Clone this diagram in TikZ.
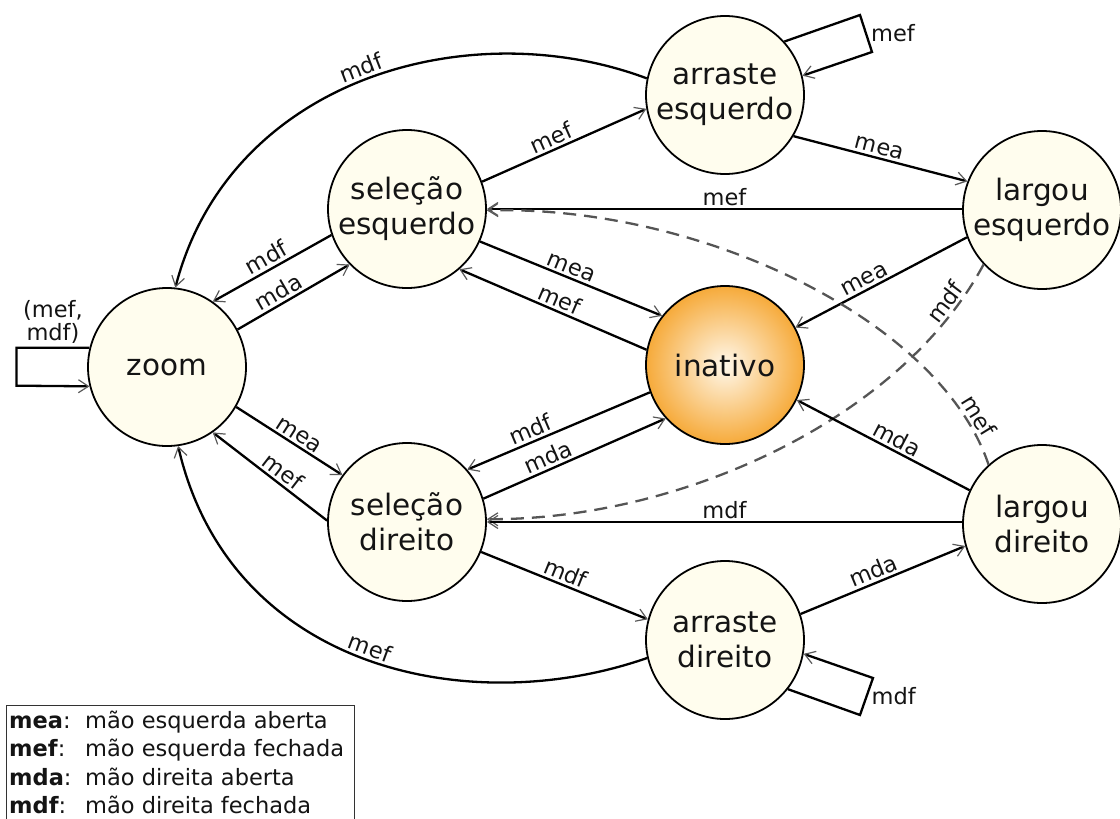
\documentclass[tikz,border=0pt]{standalone}
\usepackage{fontspec}
\setmainfont{DejaVu Sans}
\usetikzlibrary{arrows.meta,calc}
\definecolor{cream}{RGB}{255,253,238}
\definecolor{orangeout}{RGB}{246,170,58}
\definecolor{orangein}{RGB}{255,248,235}
\definecolor{dashgray}{RGB}{85,85,85}
\begin{document}
\begin{tikzpicture}[x=1pt,y=-1pt,
  state/.style={circle,draw=black,line width=1.8pt,fill=cream,minimum size=158pt,
    inner sep=0pt,align=center,font=\fontsize{29.5}{35}\selectfont,text=black!92},
  idle/.style={state,shading=radial,inner color=orangein,outer color=orangeout},
  edge/.style={line width=2.3pt,draw=black,
    -{Straight Barb[length=10pt,width=13pt,line width=1.2pt,color=black!65]}},
  dashedge/.style={edge,draw=dashgray,dash pattern=on 13pt off 8pt},
  lab/.style={font=\fontsize{22.5}{24}\selectfont,sloped,above,inner sep=2.5pt,text=black!92},
  looplab/.style={font=\fontsize{22.5}{23}\selectfont,inner sep=4pt,text=black!92,align=center}
]
\useasboundingbox (0,0) rectangle (1120,819);

% states
\node[state] (Z)  at (167,367)  {zoom};
\node[state] (SE) at (407,209)  {seleção\\esquerdo};
\node[state] (AE) at (725,95)   {arraste\\esquerdo};
\node[state] (LE) at (1042,210) {largou\\esquerdo};
\node[idle]  (IN) at (725,365)  {inativo};
\node[state] (SD) at (407,522)  {seleção\\direito};
\node[state] (LD) at (1042,524) {largou\\direito};
\node[state] (AD) at (725,640)  {arraste\\direito};

% long curves to zoom
\draw[edge] (AE.168) .. controls (470,12) and (230,78) .. (Z.84) node[lab,pos=.5]{mdf};
\draw[edge] (AD.193) .. controls (470,720) and (230,670) .. (Z.-82) node[lab,pos=.5]{mef};

% upper half
\draw[edge] (SE.20) -- node[lab,pos=.45]{mef} (AE.190);
\draw[edge] (AE.-31) -- node[lab,pos=.48]{mea} (LE.159);
\draw[edge] (SE.east -| LE.west) -- node[lab]{mef} (SE.east);
\draw[edge] (SE.199) -- node[lab]{mdf} (Z.55);
\draw[edge] (Z.28) -- node[lab,pos=.42]{mda} (SE.224);
\draw[edge] (SE.-24) -- node[lab,pos=.48]{mea} (IN.142);
\draw[edge] (IN.169) -- node[lab,pos=.49]{mef} (SE.-49);
\draw[edge] (LE.200) -- node[lab,pos=.57]{mea} (IN.28);

% dashed
\draw[dashedge] (LE.223) .. controls (900,420) and (680,520) .. (SD.2) node[lab,pos=.1]{mdf};
\draw[dashedge] (LD.132) .. controls (940,320) and (700,205) .. (SE.-1) node[lab,pos=.1]{mef};

% lower half
\draw[edge] (Z.-30) -- node[lab,pos=.54]{mea} (SD.144);
\draw[edge] (SD.179) -- node[lab,pos=.45]{mef} (Z.-55);
\draw[edge] (IN.200) -- node[lab,pos=.63]{mdf} (SD.41);
\draw[edge] (SD.17) -- node[lab,pos=.38]{mda} (IN.222);
\draw[edge] (LD.155) -- node[lab,pos=.45]{mda} (IN.-26);
\draw[edge] (SD.east -| LD.west) -- node[lab]{mdf} (SD.east);
\draw[edge] (SD.-22) -- node[lab,pos=.48]{mdf} (AD.165);
\draw[edge] (AD.19.5) -- node[lab,pos=.47]{mda} (LD.196);

% self loops
\draw[edge] (AE.42) -- (860,15) -- node[looplab,right]{mef} (872,52) -- (AE.14);
\draw[edge] (AD.-38) -- (860,715) -- node[looplab,right]{mdf} (873,678) -- (AD.-10);
\draw[edge] (Z.166) -- node[looplab,above,inner sep=3pt]{(mef,\\mdf)} ++(-73,0) -- ++(0,38) -- (Z.194);

% legend
\draw[line width=1pt,draw=black!80] (6,830) -- (6,705) -- (354,705) -- (354,830);
\node[anchor=base west,inner sep=0pt,font=\fontsize{22.5}{28.5}\selectfont,text=black!92] (legend) at (9,728)
  {\begin{tabular}[t]{@{}p{76pt}@{}l@{}}
   \textbf{mea}: & mão esquerda aberta\\
   \textbf{mef}: & mão esquerda fechada\\
   \textbf{mda}: & mão direita aberta\\
   \textbf{mdf}: & mão direita fechada
   \end{tabular}};
\end{tikzpicture}
\end{document}
